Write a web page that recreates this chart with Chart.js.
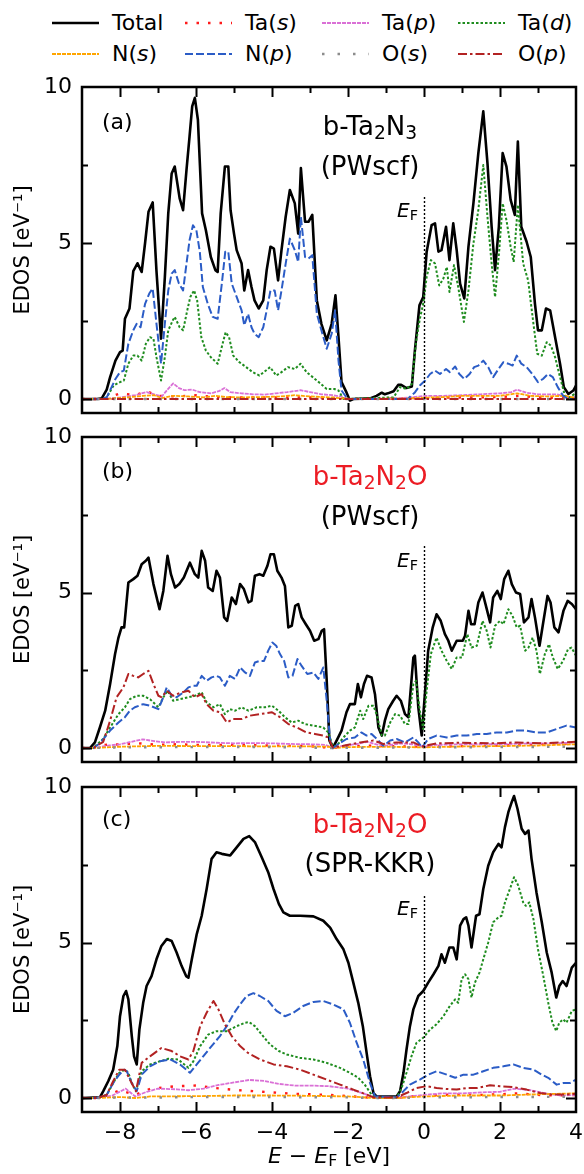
<!DOCTYPE html>
<html>
<head>
<meta charset="utf-8">
<script src="https://cdn.jsdelivr.net/npm/chart.js@4.4.1/dist/chart.umd.min.js"></script>
<style>
  body { margin: 0; background: #fff; }
  #page { position: relative; width: 584px; height: 1174px; overflow: hidden; font-family: 'DejaVu Sans', sans-serif; color: #000; }
  canvas { position: absolute; left: 0; }
  .txt { position: absolute; white-space: nowrap; line-height: 1; }
  .sb { font-size: 0.72em; vertical-align: -0.22em; line-height: 0; }
  .leg { position: absolute; font-size: 22px; line-height: 1; white-space: nowrap; }
  .title { font-size: 26px; transform: translateX(-50%); }
  .red { color: #ec1c24; }
</style>
</head>
<body>
<div id="page">
  <div id="legend"></div>
  <canvas id="pa" width="584" height="353" style="top:67px"></canvas>
  <canvas id="pb" width="584" height="352" style="top:417px"></canvas>
  <canvas id="pc" width="584" height="407" style="top:767px"></canvas>

  <div class="txt" style="left:102px;top:111px;font-size:22px">(a)</div>
  <div class="txt title" style="left:370px;top:113px">b-Ta<span class="sb">2</span>N<span class="sb">3</span></div>
  <div class="txt title" style="left:370px;top:153px">(PWscf)</div>

  <div class="txt" style="left:102px;top:460px;font-size:22px">(b)</div>
  <div class="txt title red" style="left:370px;top:463px">b-Ta<span class="sb">2</span>N<span class="sb">2</span>O</div>
  <div class="txt title" style="left:370px;top:503px">(PWscf)</div>

  <div class="txt" style="left:102px;top:808px;font-size:22px">(c)</div>
  <div class="txt title red" style="left:370px;top:811px">b-Ta<span class="sb">2</span>N<span class="sb">2</span>O</div>
  <div class="txt title" style="left:370px;top:850px">(SPR-KKR)</div>

  <div class="txt" style="right:166px;top:200px;font-size:20px"><i>E</i><span class="sb">F</span></div>
  <div class="txt" style="right:166px;top:550px;font-size:20px"><i>E</i><span class="sb">F</span></div>
  <div class="txt" style="right:166px;top:898px;font-size:20px"><i>E</i><span class="sb">F</span></div>

  <div class="txt" style="left:329px;top:1145px;font-size:22px;transform:translateX(-50%)"><i>E</i> &minus; <i>E</i><span class="sb">F</span> [eV]</div>
</div>
<script>
// ---- series names, tick values ----
const seriesNames = ['Total', 'Ta(s)', 'Ta(p)', 'Ta(d)', 'N(s)', 'N(p)', 'O(s)', 'O(p)'];
const xTickLabels = [-8, -6, -4, -2, 0, 2, 4];
const xMajorTicks = [-8, -6, -4, -2, 0, 2];
const xMinorTicks = [-7, -5, -3, -1, 1, 3];
const yTickLabels = [0, 5, 10];
const yMinorTicks = [2.5, 7.5];
const efTop = 6.5;

// ---- (a) b-Ta2N3, PWscf ----
const aTotalE = [-9,-8.6,-8.48,-8.35,-8.26,-8.12,-8.0,-7.93,-7.87,-7.75,
  -7.65,-7.54,-7.43,-7.34,-7.25,-7.14,-7.04,-6.92,-6.82,-6.73,
  -6.64,-6.56,-6.43,-6.34,-6.25,-6.17,-6.1,-6.03,-5.95,-5.84,
  -5.74,-5.61,-5.49,-5.43,-5.35,-5.24,-5.15,-5.09,-5.0,-4.93,
  -4.8,-4.73,-4.63,-4.54,-4.46,-4.35,-4.23,-4.14,-4.04,-3.95,
  -3.84,-3.75,-3.64,-3.53,-3.4,-3.31,-3.24,-3.13,-3.04,-2.94,
  -2.82,-2.7,-2.56,-2.43,-2.33,-2.25,-2.17,-2.04,-1.95,-1.86,
  -1.42,-1.25,-1.11,-1.03,-0.95,-0.8,-0.68,-0.6,-0.46,-0.32,
  -0.24,-0.12,-0.02,0.07,0.2,0.29,0.38,0.46,0.58,0.67,
  0.77,0.86,0.95,1.06,1.17,1.3,1.43,1.56,1.67,1.78,
  1.87,1.97,2.07,2.17,2.28,2.39,2.47,2.56,2.7,2.81,
  2.92,3.0,3.1,3.21,3.32,3.45,3.58,3.68,3.8,3.93,
  4.0];
const aTotal = [0,0,0.02,0.3,0.7,1.23,1.5,1.55,2.57,2.9,
  4.1,4.35,4.07,5.0,6.0,6.3,4.1,1.93,3.9,5.95,
  7.23,7.45,6.43,6.05,7.34,8.41,9.38,9.65,8.95,5.95,
  5.41,4.55,4.13,4.07,5.95,7.45,7.45,6.05,5.3,4.77,
  4.34,3.48,4.13,3.59,3.16,2.9,3.16,4.13,4.88,4.82,
  3.8,4.77,5.84,6.7,6.27,5.3,7.4,5.68,5.68,5.9,
  3.16,2.41,1.88,2.41,3.32,1.98,0.54,0.21,-0.05,0,
  0.02,0.1,0.2,0.15,0.18,0.25,0.45,0.45,0.35,0.4,
  1.55,3.0,3.27,4.72,5.57,5.63,4.72,4.77,5.52,4.45,
  5.63,4.77,3.7,3.22,4.88,6.27,7.88,9.22,7.56,5.52,
  4.13,5.52,7.88,7.45,6.38,5.9,8.25,5.52,5.04,4.55,
  3.05,2.2,2.2,2.9,2.84,1.98,1.13,0.38,0.16,0.27,
  0.43];
const aNpE = [-9,-8.5,-8.35,-8.12,-8.0,-7.9,-7.78,-7.65,-7.56,-7.46,
  -7.34,-7.23,-7.14,-7.04,-6.92,-6.82,-6.73,-6.64,-6.56,-6.45,
  -6.34,-6.25,-6.17,-6.08,-5.99,-5.9,-5.82,-5.69,-5.56,-5.43,
  -5.32,-5.23,-5.15,-5.06,-4.93,-4.8,-4.73,-4.63,-4.54,-4.46,
  -4.35,-4.23,-4.14,-4.04,-3.93,-3.84,-3.75,-3.64,-3.53,-3.4,
  -3.31,-3.24,-3.13,-3.04,-2.94,-2.82,-2.7,-2.56,-2.43,-2.34,
  -2.25,-2.17,-2.04,-1.95,-0.43,-0.24,-0.11,0.03,0.16,0.29,
  0.42,0.58,0.68,0.82,0.93,1.06,1.2,1.32,1.43,1.56,
  1.69,1.82,1.96,2.09,2.22,2.33,2.44,2.56,2.7,2.85,
  3.0,3.13,3.26,3.39,3.52,3.66,3.8,4.0];
const aNp = [0,0,0.05,0.64,0.86,0.91,1.77,2.2,2.41,2.3,
  3.05,3.38,3.54,2.41,1.13,2.41,3.48,4.02,4.13,3.7,
  3.48,4.34,5.09,5.57,5.41,4.72,3.59,3.05,2.63,2.57,
  3.7,4.72,4.72,3.7,3.27,2.84,2.36,2.73,2.3,2.09,
  1.98,2.3,2.84,3.48,3.48,2.84,3.48,4.34,5.14,4.77,
  4.39,5.84,4.55,4.5,4.61,2.73,2.2,1.61,2.09,2.84,
  1.23,0.27,0.05,0,0,0.21,0.43,0.59,0.8,0.91,
  0.8,0.96,0.86,1.04,0.8,0.64,0.8,1.02,1.07,1.23,
  1.02,0.7,0.96,1.18,1.13,1.07,1.39,1.13,1.02,0.8,
  0.54,0.64,0.8,0.7,0.38,0.1,0,0];
const aTadE = [-9,-8.5,-8.35,-8.17,-8.0,-7.9,-7.78,-7.65,-7.54,-7.43,
  -7.32,-7.21,-7.12,-7.04,-6.92,-6.82,-6.73,-6.61,-6.56,-6.43,
  -6.34,-6.23,-6.15,-6.05,-5.97,-5.86,-5.74,-5.61,-5.43,-5.3,
  -5.22,-5.13,-5.02,-4.86,-4.68,-4.51,-4.33,-4.16,-4.05,-3.89,
  -3.75,-3.58,-3.4,-3.25,-3.09,-2.93,-2.77,-2.56,-2.36,-2.25,
  -2.12,-0.8,-0.63,-0.46,-0.32,-0.21,-0.11,-0.02,0.07,0.18,
  0.29,0.4,0.51,0.6,0.67,0.79,0.9,1.05,1.17,1.3,
  1.43,1.56,1.67,1.78,1.87,1.98,2.07,2.17,2.28,2.36,
  2.47,2.61,2.74,2.88,2.98,3.1,3.23,3.34,3.45,3.58,
  3.71,3.84,4.0];
const aTad = [0,0,0.05,0.43,0.54,0.59,1.13,1.39,1.39,1.23,
  1.77,1.98,1.93,1.34,0.59,1.34,2.2,2.52,2.63,2.3,
  2.2,2.84,3.27,3.48,3.16,1.98,1.55,1.34,1.13,1.77,
  2.14,1.98,1.39,1.18,1.02,0.86,0.75,0.91,1.02,0.75,
  0.86,1.02,0.96,1.13,0.86,0.7,0.54,0.32,0.32,0.27,
  0,0.05,0.38,0.32,0.48,1.82,2.57,3.05,3.91,4.45,
  4.34,3.64,3.86,4.23,3.43,4.29,3.59,2.47,3.48,4.98,
  6.06,7.5,5.84,4.34,3.27,4.77,6.27,5.73,4.88,4.39,
  6.22,4.34,3.8,2.41,1.45,1.39,1.82,1.71,1.34,0.7,
  0.1,0.05,0.2];
const aTasE = [-9,-8.4,-8,-7.6,-7.3,-7,-6.5,-6,-5.5,-5,-4,-3,-2.2,-2,-0.5,0,1,2,2.5,3,4];
const aTas = [0,0,0.18,0.12,0.25,0.1,0.08,0.12,0.06,0.05,0.05,0.05,0.03,0,0.02,0.04,0.05,0.06,0.1,0.05,0.02];
const aTapE = [-9,-8.4,-8,-7.6,-7.3,-7.1,-6.9,-6.75,-6.6,-6.45,
  -6.3,-6.1,-5.9,-5.6,-5.4,-5.25,-5.1,-4.8,-4.5,-4.2,
  -3.9,-3.6,-3.25,-3,-2.7,-2.4,-2.2,-2,-1,-0.4,
  0,0.5,1,1.5,2,2.3,2.45,2.7,3,3.5,
  3.8,4];
const aTap = [0,0,0.05,0.12,0.22,0.15,0.08,0.3,0.5,0.35,
  0.28,0.3,0.22,0.18,0.25,0.35,0.22,0.18,0.15,0.14,
  0.18,0.22,0.28,0.22,0.15,0.12,0.08,0,0.01,0.04,
  0.1,0.1,0.12,0.15,0.18,0.22,0.3,0.2,0.15,0.15,
  0.05,0.05];
const aNsE = [-9,-8.4,-7.8,-7.4,-7.1,-6.9,-6.6,-6.2,-5.8,-5.5,
  -5.2,-4.8,-4.3,-3.8,-3.4,-3,-2.5,-2.1,-1.9,-0.5,
  0,0.5,1,1.5,2,2.45,2.8,3.2,3.7,4];
const aNs = [0,0,0.05,0.1,0.12,0.03,0.1,0.08,0.05,0.1,
  0.06,0.05,0.06,0.08,0.12,0.08,0.05,0.02,0,0.01,
  0.04,0.06,0.1,0.1,0.1,0.18,0.1,0.08,0.1,0.03];
const aOE = [-9, 4];
const aOs = [0, 0];
const aOp = [0, 0];

// ---- (b) b-Ta2N2O, PWscf ----
const bTotalE = [-9,-8.79,-8.66,-8.53,-8.39,-8.26,-8.13,-8.04,-7.96,-7.89,
  -7.78,-7.65,-7.54,-7.43,-7.32,-7.25,-7.12,-6.96,-6.86,-6.75,
  -6.66,-6.55,-6.44,-6.32,-6.16,-6.03,-5.94,-5.85,-5.76,-5.68,
  -5.56,-5.46,-5.37,-5.26,-5.18,-5.06,-4.95,-4.84,-4.74,-4.62,
  -4.54,-4.45,-4.33,-4.23,-4.12,-4.04,-3.95,-3.86,-3.75,-3.66,
  -3.57,-3.48,-3.39,-3.31,-3.22,-3.11,-3.0,-2.89,-2.78,-2.69,
  -2.63,-2.56,-2.49,-2.4,-2.3,-2.17,-2.04,-1.95,-1.82,-1.74,
  -1.66,-1.58,-1.5,-1.38,-1.29,-1.2,-1.11,-1.03,-0.94,-0.81,
  -0.72,-0.61,-0.5,-0.41,-0.28,-0.24,-0.15,-0.06,0.03,0.11,
  0.23,0.33,0.44,0.55,0.64,0.73,0.86,1.02,1.08,1.17,
  1.24,1.33,1.43,1.54,1.63,1.74,1.82,1.93,2.02,2.11,
  2.22,2.31,2.42,2.53,2.63,2.75,2.83,2.92,3.04,3.13,
  3.25,3.33,3.43,3.54,3.67,3.78,3.89,4.0];
const bTotal = [0,0,0.18,0.66,1.2,2.06,3.02,3.55,3.88,3.88,
  5.32,5.43,5.54,5.91,6.02,6.12,5.27,4.46,5.05,6.18,
  5.59,5.16,5.27,5.48,5.96,5.59,5.48,6.34,6.02,5.16,
  5.05,5.7,5.48,4.2,4.09,4.84,4.63,5.27,5.11,4.68,
  4.73,5.54,5.59,5.54,5.86,6.23,6.23,5.7,5.48,5.21,
  3.88,3.93,4.57,4.63,4.2,3.98,3.77,3.45,3.5,3.77,
  3.82,2.16,0.24,0,0.24,0.56,1.15,1.41,1.41,2.06,
  1.63,2.06,2.32,2.27,1.73,0.66,0.4,0.88,1.25,1.52,
  1.68,1.52,1.09,0.99,2.91,2.97,1.31,0.4,1.84,3.13,
  3.88,4.3,4.09,3.66,3.45,3.13,3.45,3.45,3.61,4.41,
  3.98,3.98,4.68,5.0,4.57,4.04,4.84,5.05,4.79,5.43,
  5.7,5.27,5.0,4.95,4.04,4.2,4.79,4.2,3.29,3.98,
  4.89,4.68,3.88,3.72,4.41,4.73,4.63,4.46];
const bNpE = [-9,-8.7,-8.53,-8.26,-8.04,-7.87,-7.74,-7.61,-7.39,-7.21,
  -6.99,-6.86,-6.77,-6.64,-6.51,-6.33,-6.2,-6.07,-5.98,-5.85,
  -5.72,-5.59,-5.46,-5.37,-5.24,-5.11,-4.97,-4.84,-4.71,-4.58,
  -4.45,-4.32,-4.21,-4.1,-3.99,-3.89,-3.79,-3.68,-3.57,-3.46,
  -3.33,-3.22,-3.07,-2.91,-2.78,-2.65,-2.56,-2.47,-2.4,-2.25,
  -2.04,-1.82,-1.65,-1.51,-1.38,-1.2,-1.07,-0.89,-0.72,-0.5,
  -0.28,-0.15,-0.05,0.11,0.33,0.6,0.86,1.12,1.39,1.65,
  1.91,2.18,2.44,2.7,2.96,3.23,3.49,3.75,4.0];
const bNp = [0,0,0.15,0.56,0.82,0.99,1.2,1.31,1.41,1.36,
  1.25,1.63,1.95,1.68,1.63,1.79,1.95,2.0,2.0,2.32,
  2.16,2.27,2.32,2.27,2.0,2.32,2.22,2.59,2.43,2.32,
  2.75,2.8,2.8,3.13,3.39,3.29,3.02,2.8,2.27,2.32,
  2.86,2.64,2.38,2.43,2.22,2.59,1.52,0.24,0,0.13,
  0.29,0.34,0.5,0.4,0.45,0.24,0.07,0.24,0.29,0.18,
  0.34,0.18,0.02,0.29,0.4,0.34,0.4,0.4,0.45,0.45,
  0.5,0.5,0.56,0.56,0.5,0.5,0.61,0.72,0.66];
const bTadE = [-9,-8.7,-8.44,-8.26,-8.04,-7.87,-7.74,-7.56,-7.39,-7.21,
  -6.99,-6.86,-6.75,-6.6,-6.42,-6.2,-6.03,-5.85,-5.72,-5.54,
  -5.37,-5.24,-5.11,-4.97,-4.8,-4.62,-4.4,-4.18,-4.0,-3.83,
  -3.66,-3.48,-3.31,-3.13,-2.91,-2.65,-2.52,-2.4,-2.3,-2.12,
  -1.95,-1.82,-1.68,-1.6,-1.46,-1.33,-1.25,-1.11,-1.03,-0.89,
  -0.76,-0.63,-0.5,-0.41,-0.28,-0.21,-0.11,-0.02,0.07,0.18,
  0.33,0.46,0.6,0.73,0.86,1.0,1.14,1.25,1.39,1.54,
  1.65,1.75,1.87,2.0,2.09,2.22,2.33,2.44,2.53,2.66,
  2.75,2.86,2.96,3.05,3.18,3.29,3.39,3.52,3.66,3.79,
  3.88,4.0];
const bTad = [0,0,0.3,0.66,1.09,1.31,1.57,1.68,1.68,1.57,
  1.31,1.63,1.84,1.52,1.57,1.63,1.68,1.79,1.47,1.31,
  1.41,1.09,1.25,1.2,1.31,1.2,1.31,1.31,1.36,1.2,
  0.99,0.82,0.88,0.77,0.72,0.66,0.5,0.07,0.07,0.34,
  0.56,0.66,1.2,0.93,1.36,1.36,1.09,0.4,0.4,0.82,
  1.09,1.04,0.77,0.77,2.06,2.16,1.2,0.61,1.84,3.02,
  3.55,3.13,2.8,2.54,2.91,2.91,3.66,3.23,3.29,4.09,
  3.77,3.23,3.93,4.09,3.98,4.46,4.25,3.88,3.93,3.13,
  3.23,3.55,3.13,2.38,3.02,3.34,2.91,2.54,2.8,3.18,
  3.23,2.97];
const bOpE = [-9,-8.7,-8.44,-8.26,-8.09,-7.91,-7.78,-7.65,-7.52,-7.39,
  -7.25,-7.12,-6.99,-6.9,-6.77,-6.6,-6.38,-6.2,-6.03,-5.85,
  -5.72,-5.54,-5.37,-5.19,-5.02,-4.8,-4.58,-4.32,-4.0,-3.79,
  -3.57,-3.35,-3.09,-2.87,-2.65,-2.52,-2.4,-2.12,-1.68,-1.33,
  -1.07,-0.72,-0.28,-0.05,0.33,0.95,1.82,2.44,3.15,4.0];
const bOp = [0,0,0.2,0.88,1.63,1.95,2.38,2.32,2.27,2.38,
  2.48,2.06,1.68,1.63,1.84,1.68,1.79,1.84,1.63,1.73,
  1.41,1.2,1.15,0.82,0.93,0.93,1.04,1.09,1.15,0.99,
  0.77,0.66,0.5,0.45,0.4,0.34,0.02,0.07,0.18,0.24,
  0.13,0.18,0.18,0.05,0.15,0.17,0.15,0.18,0.15,0.2];
const bTapE = [-9,-8.7,-8.3,-8,-7.7,-7.4,-7.1,-6.8,-6.4,-6,
  -5.5,-5,-4.5,-4,-3.5,-3,-2.6,-2.4,-2.1,-1.8,
  -1.5,-1.2,-1,-0.6,-0.3,0,0.3,1,1.5,2,
  2.5,3,3.5,4];
const bTap = [0,0,0.08,0.12,0.2,0.28,0.22,0.18,0.2,0.2,
  0.17,0.15,0.16,0.15,0.13,0.12,0.1,0,0.08,0.12,
  0.2,0.1,0.08,0.15,0.12,0.04,0.1,0.12,0.12,0.12,
  0.14,0.15,0.15,0.18];
const bNsE = [-9,-8.7,-8,-7,-6,-5,-4,-3,-2.5,-2.4,-2,-1,0,1,2,3,4];
const bNs = [0,0,0.04,0.07,0.06,0.06,0.05,0.05,0.04,0,0.03,0.04,0.02,0.05,0.06,0.08,0.12];
const bTasE = [-9,-8.7,-8.4,-8,-7.5,-7,-6.5,-6,-5,-4,-3,-2.4,-2,-1.5,-1,0,1,2,3,3.5,4];
const bTas = [0,0,0.1,0.12,0.15,0.1,0.12,0.1,0.1,0.08,0.06,0,0.05,0.08,0.06,0.04,0.06,0.08,0.12,0.15,0.12];
const bOsE = [-9,-8.7,-8,-6,-4,-2.4,0,2,4];
const bOs = [0,0,0.02,0.03,0.03,0,0.02,0.03,0.04];

// ---- (c) b-Ta2N2O, SPR-KKR ----
const cTotalE = [-9,-8.53,-8.44,-8.31,-8.18,-8.07,-8.0,-7.91,-7.84,-7.78,
  -7.69,-7.63,-7.56,-7.49,-7.39,-7.3,-7.17,-7.04,-6.91,-6.77,
  -6.64,-6.51,-6.38,-6.26,-6.2,-6.11,-5.98,-5.85,-5.72,-5.59,
  -5.46,-5.32,-5.1,-4.93,-4.75,-4.6,-4.45,-4.27,-4.1,-3.96,
  -3.82,-3.7,-3.53,-3.26,-2.91,-2.65,-2.47,-2.3,-2.12,-1.99,
  -1.86,-1.73,-1.61,-1.51,-1.42,-1.33,-1.25,-0.72,-0.63,-0.54,
  -0.46,-0.37,-0.28,-0.15,-0.02,0.11,0.25,0.38,0.46,0.55,
  0.67,0.77,0.86,0.95,1.04,1.11,1.17,1.25,1.37,1.46,
  1.56,1.69,1.82,1.96,2.04,2.13,2.22,2.31,2.37,2.46,
  2.57,2.66,2.75,2.83,2.96,3.1,3.23,3.36,3.48,3.56,
  3.65,3.75,3.89,4.0];
const cTotal = [0,0.02,0.22,0.54,0.91,1.67,2.63,3.28,3.44,3.17,
  1.99,1.34,1.08,2.2,3.06,3.6,3.92,4.46,4.89,5.11,
  5.05,4.68,4.25,3.92,3.87,4.46,5.27,5.86,6.72,7.69,
  7.9,7.85,7.8,8.06,8.33,8.42,8.23,7.74,7.26,6.72,
  6.24,5.97,5.86,5.86,5.84,5.7,5.48,5.11,4.78,4.35,
  3.71,3.06,2.31,1.45,0.7,0.16,0.05,0.05,0.22,0.81,
  1.56,2.31,2.85,3.28,3.44,3.71,3.98,4.25,4.62,4.35,
  4.84,4.84,4.46,5.54,5.75,5.81,5.54,4.84,5.86,5.91,
  6.72,7.47,7.9,8.17,8.06,8.71,9.19,9.52,9.71,9.3,
  8.66,8.49,8.6,7.69,6.61,5.65,4.68,4.03,3.23,3.6,
  3.76,3.6,4.19,4.35];
const cNpE = [-9,-8.6,-8.35,-8.18,-8.02,-7.89,-7.82,-7.69,-7.56,-7.43,
  -7.21,-6.95,-6.68,-6.42,-6.16,-5.98,-5.81,-5.59,-5.37,-5.19,
  -5.02,-4.84,-4.67,-4.49,-4.32,-4.1,-3.88,-3.66,-3.44,-3.18,
  -2.91,-2.65,-2.39,-2.12,-1.95,-1.77,-1.6,-1.42,-1.29,-0.72,
  -0.54,-0.37,-0.11,0.11,0.33,0.6,0.82,1.04,1.3,1.56,
  1.82,2.09,2.35,2.61,2.88,3.1,3.27,3.49,3.66,3.84,
  4.0];
const cNp = [0,0,0.1,0.48,0.75,0.91,0.86,0.48,0.22,0.75,
  1.02,1.18,1.24,1.08,0.81,1.08,1.34,1.67,1.99,2.31,
  2.69,3.01,3.28,3.37,3.28,3.12,2.8,2.63,2.74,2.96,
  3.09,3.12,3.01,2.85,2.42,1.77,1.24,0.48,0.05,0.02,
  0.22,0.43,0.59,0.75,0.86,0.75,0.65,0.75,0.75,0.86,
  0.97,1.02,1.08,0.97,0.91,0.75,0.65,0.43,0.48,0.48,
  0.59];
const cTadE = [-9,-8.6,-8.35,-8.18,-8.02,-7.87,-7.78,-7.69,-7.58,-7.43,
  -7.21,-6.95,-6.73,-6.47,-6.2,-6.07,-5.89,-5.68,-5.46,-5.19,
  -4.93,-4.71,-4.6,-4.45,-4.27,-4.05,-3.82,-3.61,-3.26,-2.91,
  -2.56,-2.21,-1.95,-1.73,-1.56,-1.38,-1.29,-0.72,-0.59,-0.46,
  -0.33,-0.2,-0.02,0.16,0.33,0.51,0.68,0.82,0.9,0.99,
  1.08,1.17,1.25,1.34,1.46,1.56,1.69,1.82,1.96,2.04,
  2.13,2.26,2.37,2.48,2.61,2.68,2.77,2.88,3.0,3.14,
  3.27,3.38,3.48,3.56,3.66,3.75,3.89,4.0];
const cTad = [0,0,0.1,0.48,0.81,0.91,0.81,0.48,0.22,0.86,
  1.08,1.18,1.26,1.24,0.97,1.18,1.67,2.04,2.15,2.15,
  2.31,2.42,2.44,2.31,2.04,1.72,1.51,1.4,1.29,1.24,
  1.13,0.97,0.81,0.65,0.43,0.11,0.02,0.02,0.32,0.81,
  1.34,1.77,1.94,2.2,2.37,2.63,2.96,3.17,3.06,3.82,
  3.98,3.82,3.23,3.71,4.03,4.46,5.0,5.65,5.81,5.86,
  6.29,6.72,7.1,6.83,6.29,6.18,6.29,5.75,4.78,3.92,
  3.06,2.42,2.15,2.42,2.53,2.42,2.8,2.85];
const cOpE = [-9,-8.6,-8.35,-8.18,-8.02,-7.87,-7.74,-7.58,-7.43,-7.21,
  -6.91,-6.64,-6.42,-6.2,-6.07,-5.89,-5.72,-5.54,-5.41,-5.24,
  -5.06,-4.84,-4.63,-4.32,-3.96,-3.61,-3.26,-2.91,-2.56,-2.21,
  -1.86,-1.51,-1.33,-0.72,-0.46,-0.2,0.07,0.33,0.6,0.86,
  1.12,1.39,1.74,2.0,2.35,2.7,3.05,3.4,3.75,4.0];
const cOp = [0,0,0.1,0.54,0.91,0.91,0.59,0.22,1.13,1.34,
  1.61,1.51,1.34,1.24,1.51,2.31,2.74,3.12,2.85,2.37,
  1.99,1.67,1.45,1.24,1.08,1.02,0.91,0.75,0.59,0.43,
  0.27,0.11,0.02,0.02,0.16,0.32,0.38,0.32,0.29,0.27,
  0.32,0.32,0.41,0.38,0.35,0.27,0.16,0.11,0.11,0.14];
const cTapE = [-9,-8.6,-8.2,-7.85,-7.6,-7.3,-7,-6.5,-6.2,-5.8,
  -5.4,-5,-4.6,-4.2,-3.8,-3.4,-3,-2.5,-2,-1.6,
  -1.3,-0.7,-0.3,0,0.5,1,1.5,2,2.4,2.8,
  3.2,3.6,4];
const cTap = [0,0,0.08,0.3,0.05,0.2,0.3,0.28,0.25,0.3,
  0.42,0.5,0.58,0.55,0.45,0.4,0.4,0.38,0.3,0.15,
  0.01,0.01,0.06,0.1,0.15,0.15,0.18,0.2,0.3,0.25,
  0.15,0.08,0.1];
const cNsE = [-9,-8.6,-8,-7.6,-7.2,-6,-5,-4,-3,-2,-1.3,-0.7,0,1,2,3,4];
const cNs = [0,0,0.03,0,0.05,0.06,0.08,0.08,0.07,0.05,0,0,0.05,0.08,0.08,0.12,0.15];
const cTasE = [-9,-8.5,-8,-7.6,-7.2,-6.5,-6,-5.5,-5,-4.5,
  -4,-3.5,-3,-2.5,-2,-1.4,-0.7,0,0.5,1,
  1.5,2,2.5,3,3.5,4];
const cTas = [0,0,0.25,0.1,0.3,0.38,0.4,0.32,0.26,0.22,
  0.18,0.14,0.12,0.1,0.06,0.01,0.01,0.08,0.1,0.12,
  0.1,0.12,0.15,0.1,0.08,0.1];
const cOsE = [-9,-8.5,-8,-7.5,-6,-4,-2,-1.3,-0.7,0,2,4];
const cOs = [0,0,0.02,0.01,0.03,0.03,0.02,0,0,0.02,0.03,0.04];

// ---- line styles, same order as seriesNames ----
const styles = [
  { color: '#000000', width: 2.6, dash: [] },
  { color: '#ff1a1a', width: 2.4, dash: [2.5, 9] },
  { color: '#da70d6', width: 1.8, dash: [4, 1] },
  { color: '#1e8c1e', width: 2, dash: [2.5, 2] },
  { color: '#ffa500', width: 1.8, dash: [4, 1] },
  { color: '#2b5cc6', width: 2, dash: [8, 3] },
  { color: '#8c8c8c', width: 2.4, dash: [2.5, 13] },
  { color: '#b22222', width: 2, dash: [9, 3, 2.5, 3] }
];

// ---- legend (html) ----
const legendCols = [52, 185, 322, 458];
const legendRows = [23, 54];
const legend = document.getElementById('legend');
seriesNames.forEach((name, i) => {
  const st = styles[i];
  const cx = legendCols[i % 4];
  const cy = legendRows[Math.floor(i / 4)];
  const svg = document.createElementNS('http://www.w3.org/2000/svg', 'svg');
  svg.setAttribute('width', 47);
  svg.setAttribute('height', 10);
  svg.style.cssText = `position:absolute;left:${cx}px;top:${cy - 5}px`;
  const ln = document.createElementNS('http://www.w3.org/2000/svg', 'line');
  ln.setAttribute('x1', 0); ln.setAttribute('x2', 47);
  ln.setAttribute('y1', 5); ln.setAttribute('y2', 5);
  ln.setAttribute('stroke', st.color);
  ln.setAttribute('stroke-width', st.width);
  if (st.dash.length) ln.setAttribute('stroke-dasharray', st.dash.join(' '));
  svg.appendChild(ln);
  legend.appendChild(svg);
  const t = document.createElement('div');
  t.className = 'leg';
  t.style.left = (cx + 60) + 'px';
  t.style.top = (cy - 11) + 'px';
  t.innerHTML = name.replace(/\((\w)\)/, '(<i>$1</i>)');
  legend.appendChild(t);
});

// ---- charts ----
Chart.defaults.font.family = "'DejaVu Sans', sans-serif";
Chart.defaults.font.size = 22;
Chart.defaults.color = '#000';

const framePlugin = {
  id: 'frame',
  afterDatasetsDraw(chart) {
    const { ctx, chartArea: { left, right, top, bottom }, scales: { x, y } } = chart;
    ctx.save();
    ctx.strokeStyle = '#000';
    ctx.lineWidth = 2;
    ctx.beginPath();
    const xt = (list, len) => list.forEach(v => {
      const px = Math.round(x.getPixelForValue(v)) + 0.5;
      ctx.moveTo(px, bottom); ctx.lineTo(px, bottom - len);
      ctx.moveTo(px, top); ctx.lineTo(px, top + len);
    });
    const yt = (list, len) => list.forEach(v => {
      const py = Math.round(y.getPixelForValue(v)) + 0.5;
      ctx.moveTo(left, py); ctx.lineTo(left + len, py);
      ctx.moveTo(right, py); ctx.lineTo(right - len, py);
    });
    xt(xMajorTicks, 10); xt(xMinorTicks, 6);
    yt(yTickLabels.filter(v => v < 10), 10); yt(yMinorTicks, 6);
    ctx.stroke();
    // Fermi level marker
    const x0 = Math.round(x.getPixelForValue(0)) + 0.5;
    ctx.setLineDash([2, 2]);
    ctx.lineWidth = 1.4;
    ctx.beginPath();
    ctx.moveTo(x0, y.getPixelForValue(0));
    ctx.lineTo(x0, y.getPixelForValue(efTop));
    ctx.stroke();
    ctx.setLineDash([]);
    ctx.lineWidth = 2.5;
    ctx.strokeRect(left, top, right - left, bottom - top);
    ctx.restore();
  }
};

const panels = [
  { id: 'pa', showX: false, series: [[aTotalE, aTotal], [aTasE, aTas], [aTapE, aTap], [aTadE, aTad], [aNsE, aNs], [aNpE, aNp], [aOE, aOs], [aOE, aOp]] },
  { id: 'pb', showX: false, series: [[bTotalE, bTotal], [bTasE, bTas], [bTapE, bTap], [bTadE, bTad], [bNsE, bNs], [bNpE, bNp], [bOsE, bOs], [bOpE, bOp]] },
  { id: 'pc', showX: true, series: [[cTotalE, cTotal], [cTasE, cTas], [cTapE, cTap], [cTadE, cTad], [cNsE, cNs], [cNpE, cNp], [cOsE, cOs], [cOpE, cOp]] }
];

panels.forEach(p => {
  const datasets = p.series.map(([e, d], i) => ({
    label: seriesNames[i],
    data: e.map((v, k) => ({ x: v, y: d[k] })),
    borderColor: styles[i].color,
    borderWidth: styles[i].width,
    borderDash: styles[i].dash,
    borderJoinStyle: 'round',
    pointRadius: 0,
    tension: 0,
    fill: false,
    order: -i
  }));
  new Chart(document.getElementById(p.id), {
    type: 'line',
    data: { datasets },
    options: {
      responsive: false,
      animation: false,
      events: [],
      layout: { padding: { top: 20, right: 8, bottom: p.showX ? 0 : 7, left: 0 } },
      plugins: { legend: { display: false }, tooltip: { enabled: false } },
      scales: {
        x: {
          type: 'linear', min: -9, max: 4,
          grid: { display: false, drawTicks: false }, border: { display: false },
          afterBuildTicks: s => { s.ticks = xTickLabels.map(v => ({ value: v })); },
          afterFit: s => {
            s.height = p.showX ? 62 : 0;
            s.paddingLeft = 0; s.paddingRight = 0; s.paddingTop = 0; s.paddingBottom = 0;
          },
          ticks: {
            display: p.showX, padding: 8, maxRotation: 0, autoSkip: false,
            callback: v => String(v).replace('-', '\u2212')
          }
        },
        y: {
          min: -0.45, max: 10,
          grid: { display: false, drawTicks: false }, border: { display: false },
          afterBuildTicks: s => { s.ticks = yTickLabels.map(v => ({ value: v })); },
          afterFit: s => {
            s.width = 82;
            s.paddingLeft = 0; s.paddingRight = 0; s.paddingTop = 0; s.paddingBottom = 0;
          },
          ticks: { padding: 10 },
          title: { display: true, text: 'EDOS [eV\u207B\u00B9]', font: { size: 21 }, padding: { top: 11, bottom: 0 } }
        }
      }
    },
    plugins: [framePlugin]
  });
});
</script>
</body>
</html>
